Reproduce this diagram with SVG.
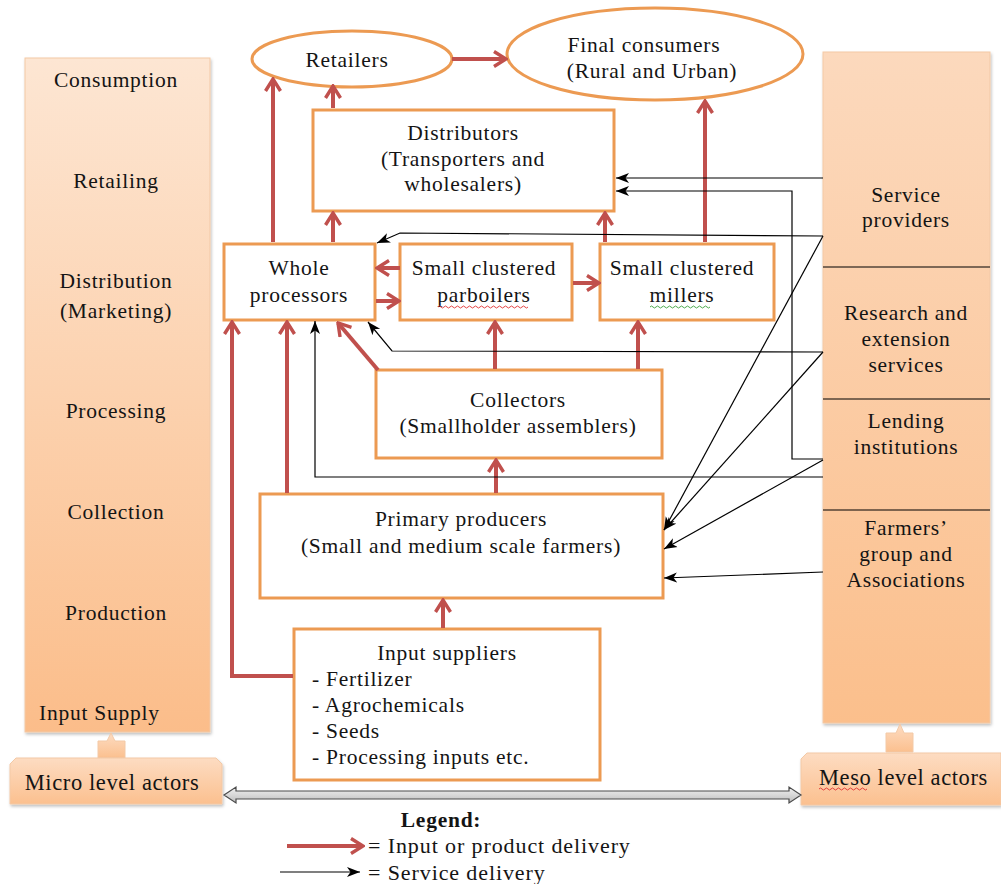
<svg xmlns="http://www.w3.org/2000/svg" width="1001" height="884" viewBox="0 0 1001 884">
<defs>
<linearGradient id="gL" x1="0" y1="0" x2="0" y2="1"><stop offset="0" stop-color="#fde6d3"/><stop offset="1" stop-color="#fbbd8a"/></linearGradient>
<linearGradient id="gR" x1="0" y1="0" x2="0" y2="1"><stop offset="0" stop-color="#fcd9bd"/><stop offset="1" stop-color="#fbbf8c"/></linearGradient>
<linearGradient id="gB" x1="0" y1="0" x2="0" y2="1"><stop offset="0" stop-color="#fddcc2"/><stop offset="1" stop-color="#fbc08f"/></linearGradient>
<linearGradient id="gA" x1="0" y1="0" x2="0" y2="1"><stop offset="0" stop-color="#f2f2f2"/><stop offset="1" stop-color="#bdbdbd"/></linearGradient>
<filter id="sh" x="-10%" y="-10%" width="130%" height="130%"><feDropShadow dx="1" dy="2" stdDeviation="1.5" flood-color="#000" flood-opacity="0.25"/></filter>
<marker id="rh" markerUnits="userSpaceOnUse" viewBox="0 0 18 18" markerWidth="18" markerHeight="18" refX="16" refY="9" orient="auto"><path d="M4,1.5 L16,9 L4,16.5" fill="none" stroke="#c0504d" stroke-width="3.4"/></marker>
<marker id="bh" markerUnits="userSpaceOnUse" viewBox="0 0 13 11" markerWidth="13" markerHeight="11" refX="13" refY="5.5" orient="auto"><path d="M0,0.5 L13,5.5 L0,10.5 L3.5,5.5 z" fill="#000"/></marker>
<style>
text{font-family:"Liberation Serif","Times New Roman",serif;fill:#141414;font-size:21.5px;letter-spacing:0.75px}
.m{text-anchor:middle}
.box{fill:#fff;stroke:#ec9a52;stroke-width:3}
.red{fill:none;stroke:#c0504d;stroke-width:4;marker-end:url(#rh)}
.blk{fill:none;stroke:#000;stroke-width:1.2;marker-end:url(#bh)}
.wr{fill:none;stroke:#e03030;stroke-width:0.9}
.wg{fill:none;stroke:#3aa03a;stroke-width:0.9}
.big{font-size:22.5px;letter-spacing:0.6px}
</style>
</defs>
<rect width="1001" height="884" fill="#fff"/>

<g id="micro-panel">
<rect x="25" y="58" width="185" height="674" fill="url(#gL)" stroke="#f3c9a6" stroke-width="1" filter="url(#sh)"/>
<text class="m" x="116" y="87">Consumption</text>
<text class="m" x="116" y="188">Retailing</text>
<text class="m" x="116" y="288">Distribution</text>
<text class="m" x="116" y="318">(Marketing)</text>
<text class="m" x="116" y="418">Processing</text>
<text class="m" x="116" y="519">Collection</text>
<text class="m" x="116" y="620">Production</text>
<text x="39" y="720">Input Supply</text>
</g>

<g id="micro-link">
<path d="M98,741 H107 L111,733 L115,741 H125 V758 H98 Z" fill="url(#gB)" stroke="#f3c9a6" stroke-width="1"/>
</g>
<g id="micro-actors">
<path d="M16,758 H216 L222,764 V804 H10 V764 Z" fill="url(#gB)" stroke="#f3c9a6" stroke-width="1" filter="url(#sh)"/>
<text class="m big" x="112" y="790">Micro level actors</text>
</g>

<g id="meso-panel">
<rect x="823" y="52" width="167" height="671" fill="url(#gR)" stroke="#f3c9a6" stroke-width="1" filter="url(#sh)"/>
<line x1="823" y1="267" x2="990" y2="267" stroke="#000" stroke-width="1.2"/>
<line x1="823" y1="399" x2="990" y2="399" stroke="#000" stroke-width="1.2"/>
<line x1="823" y1="510" x2="990" y2="510" stroke="#000" stroke-width="1.2"/>
<text class="m" x="906" y="202">Service</text>
<text class="m" x="906" y="227">providers</text>
<text class="m" x="906" y="320">Research and</text>
<text class="m" x="906" y="346">extension</text>
<text class="m" x="906" y="372">services</text>
<text class="m" x="906" y="428">Lending</text>
<text class="m" x="906" y="454">institutions</text>
<text class="m" x="906" y="535">Farmers’</text>
<text class="m" x="906" y="561">group and</text>
<text class="m" x="906" y="587">Associations</text>
</g>

<g id="meso-link">
<path d="M886,733 H896 L900,724 L904,733 H913 V752 H886 Z" fill="url(#gB)" stroke="#f3c9a6" stroke-width="1"/>
</g>
<g id="meso-actors">
<path d="M807,753 H1001 V805 H801 V759 Z" fill="url(#gB)" stroke="#f3c9a6" stroke-width="1" filter="url(#sh)"/>
<text class="big" x="819" y="785">Meso level actors</text>
<path class="wr" d="M819,789 q1.5,-2 3,0 t3,0 t3,0 t3,0 t3,0 t3,0 t3,0 t3,0 t3,0 t3,0 t3,0 t3,0 t3,0 t3,0 t3,0 t3,0"/>
</g>

<g id="retailers">
<ellipse cx="352" cy="59" rx="100" ry="28" fill="#fff" stroke="#ec9a52" stroke-width="3"/>
<text class="m" x="347" y="67">Retailers</text>
</g>
<g id="final-consumers">
<ellipse cx="655" cy="54" rx="148" ry="46" fill="#fff" stroke="#ec9a52" stroke-width="3"/>
<text class="m" x="644" y="52">Final consumers</text>
<text class="m" x="652" y="78">(Rural and Urban)</text>
</g>
<g id="distributors">
<rect class="box" x="313" y="110" width="301" height="101"/>
<text class="m" x="463" y="140">Distributors</text>
<text class="m" x="463" y="166">(Transporters and</text>
<text class="m" x="463" y="191">wholesalers)</text>
</g>
<g id="whole-processors">
<rect class="box" x="224" y="244" width="151" height="76"/>
<text class="m" x="299" y="275">Whole</text>
<text class="m" x="299" y="302">processors</text>
</g>
<g id="parboilers">
<rect class="box" x="400" y="244" width="172" height="76"/>
<text class="m" x="484" y="275">Small clustered</text>
<text class="m" x="484" y="302">parboilers</text>
<path class="wr" d="M438,307 q1.5,-2 3,0 t3,0 t3,0 t3,0 t3,0 t3,0 t3,0 t3,0 t3,0 t3,0 t3,0 t3,0 t3,0 t3,0 t3,0 t3,0 t3,0 t3,0 t3,0 t3,0 t3,0 t3,0 t3,0 t3,0 t3,0 t3,0 t3,0 t3,0 t3,0 t3,0"/>
</g>
<g id="millers">
<rect class="box" x="600" y="244" width="174" height="76"/>
<text class="m" x="682" y="275">Small clustered</text>
<text class="m" x="682" y="302">millers</text>
<path class="wg" d="M650,307 q1.5,-2 3,0 t3,0 t3,0 t3,0 t3,0 t3,0 t3,0 t3,0 t3,0 t3,0 t3,0 t3,0 t3,0 t3,0 t3,0 t3,0 t3,0 t3,0 t3,0 t3,0"/>
</g>
<g id="collectors">
<rect class="box" x="376" y="370" width="286" height="88"/>
<text class="m" x="518" y="407">Collectors</text>
<text class="m" x="518" y="433">(Smallholder assemblers)</text>
</g>
<g id="primary-producers">
<rect class="box" x="260" y="494" width="403" height="104"/>
<text class="m" x="461" y="526">Primary producers</text>
<text class="m" x="461" y="553">(Small and medium scale farmers)</text>
</g>
<g id="input-suppliers">
<rect class="box" x="294" y="629" width="306" height="151"/>
<text class="m" x="447" y="660">Input suppliers</text>
<text x="312" y="686">- Fertilizer</text>
<text x="312" y="712">- Agrochemicals</text>
<text x="312" y="738">- Seeds</text>
<text x="312" y="764">- Processing inputs etc.</text>
</g>

<g id="connectors">
<line class="red" x1="273" y1="242" x2="273" y2="79"/>
<line class="red" x1="333" y1="108" x2="333" y2="86"/>
<line class="red" x1="333" y1="242" x2="333" y2="213"/>
<line class="red" x1="605" y1="242" x2="605" y2="213"/>
<line class="red" x1="705" y1="242" x2="705" y2="101"/>
<line class="red" x1="452" y1="59" x2="506" y2="59"/>
<line class="red" x1="400" y1="268" x2="377" y2="268"/>
<line class="red" x1="376" y1="301" x2="399" y2="301"/>
<line class="red" x1="573" y1="283" x2="599" y2="283"/>
<line class="red" x1="495" y1="369" x2="495" y2="322"/>
<line class="red" x1="638" y1="369" x2="638" y2="322"/>
<line class="red" x1="378" y1="370" x2="338" y2="323"/>
<line class="red" x1="496" y1="493" x2="496" y2="460"/>
<line class="red" x1="287" y1="493" x2="287" y2="322"/>
<polyline class="red" points="293,676 232,676 232,322"/>
<line class="red" x1="443" y1="628" x2="443" y2="600"/>
<line class="blk" x1="823" y1="178" x2="616" y2="178"/>
<polyline class="blk" points="823,459 792,459 792,191 616,191"/>
<polyline class="blk" points="823,236 400,233 377,243"/>
<polyline class="blk" points="823,352 392,351 368,322"/>
<polyline class="blk" points="823,477 315,477 315,321"/>
<line class="blk" x1="823" y1="236" x2="664" y2="530"/>
<line class="blk" x1="823" y1="352" x2="664" y2="530"/>
<line class="blk" x1="823" y1="460" x2="664" y2="549"/>
<line class="blk" x1="823" y1="572" x2="664" y2="578"/>
<path d="M224,795 L236,787 V791 H789 V787 L801,795 L789,803 V799 H236 V803 Z" fill="url(#gA)" stroke="#4a4a4a" stroke-width="1.2"/>
</g>

<g id="legend">
<text class="m" x="441" y="827" style="font-weight:bold">Legend:</text>
<line class="red" x1="287" y1="846" x2="363" y2="846"/>
<text x="368" y="853" style="font-size:22px;letter-spacing:0.9px">= Input or product delivery</text>
<line class="blk" x1="280" y1="872" x2="360" y2="872"/>
<text x="368" y="880" style="font-size:22px;letter-spacing:0.9px">= Service delivery</text>
</g>
</svg>
